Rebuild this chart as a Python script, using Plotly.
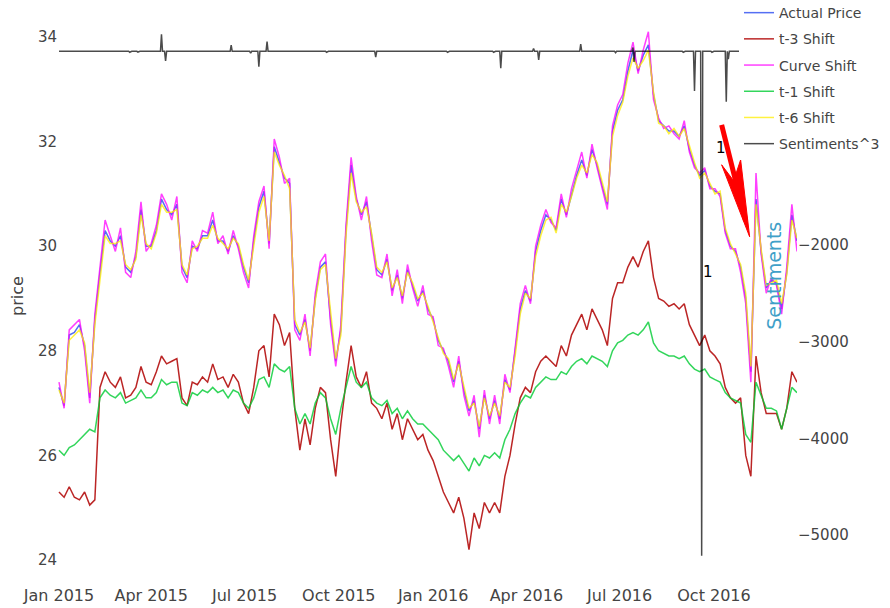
import pandas as pd
import plotly.graph_objects as go

# ---- data ----
dates = pd.date_range("2015-01-01", periods=145, freq="5D")

actual = [27.3, 26.95, 28.3, 28.35, 28.5, 28.1, 27.1, 28.6, 29.5, 30.3,
          30.1, 30.0, 30.2, 29.6, 29.5, 29.8, 30.7, 30.0, 30.0, 30.3,
          30.9, 30.7, 30.6, 30.8, 29.6, 29.4, 30.0, 29.95, 30.2, 30.2,
          30.5, 30.1, 30.1, 29.9, 30.2, 30.0, 29.6, 29.3, 30.1, 30.75,
          31.05, 30.05, 31.9, 31.6, 31.3, 31.2, 28.5, 28.3, 28.6, 28.0,
          29.0, 29.6, 29.7, 28.6, 27.8, 28.4, 30.3, 31.55, 30.9, 30.6,
          30.85, 30.2, 29.55, 29.45, 29.75, 29.15, 29.45, 29.0, 29.55, 29.25,
          28.95, 29.15, 28.8, 28.6, 28.2, 28.0, 27.8, 27.4, 27.8, 27.25,
          26.85, 27.05, 26.5, 27.15, 26.7, 27.05, 26.7, 27.45, 27.25, 28.0,
          28.8, 29.15, 28.95, 29.9, 30.3, 30.6, 30.5, 30.3, 30.9, 30.6,
          31.0, 31.35, 31.65, 31.35, 31.85, 31.55, 31.15, 30.8, 32.2, 32.6,
          32.8, 33.35, 33.75, 33.35, 33.65, 33.85, 32.9, 32.4, 32.3, 32.2,
          32.2, 32.1, 32.3, 31.85, 31.55, 31.35, 31.45, 31.15, 31.05, 31.0,
          30.3, 30.0, 29.9, 29.6, 29.0, 27.6, 30.9, 29.9, 29.2, 29.35,
          29.3, 28.8, 29.5, 30.6, 30.1]

t3_shift = [25.3, 25.2, 25.4, 25.2, 25.15, 25.3, 25.05, 25.15, 27.3, 27.6,
            27.4, 27.3, 27.5, 27.1, 27.15, 27.3, 27.7, 27.4, 27.35, 27.6,
            27.9, 27.75, 27.8, 27.85, 27.1, 26.95, 27.4, 27.35, 27.5, 27.4,
            27.75, 27.45, 27.5, 27.3, 27.55, 27.4, 27.0, 26.8, 27.3, 28.0,
            28.1, 27.5, 28.7, 28.5, 28.1, 28.35, 26.9, 26.1, 26.7, 26.2,
            26.9, 27.3, 27.2, 26.3, 25.6, 26.6, 27.4, 28.1, 27.5, 27.3,
            27.6, 27.0, 26.9, 26.7, 27.0, 26.5, 26.8, 26.3, 26.7, 26.5,
            26.3, 26.4, 26.1, 25.9, 25.6, 25.3, 25.1, 24.9, 25.2, 24.8,
            24.2, 24.9, 24.6, 25.1, 24.9, 25.1, 24.9, 25.6, 26.0, 26.6,
            27.1, 27.3, 27.2, 27.6, 27.8, 27.9, 27.8, 27.7, 28.1, 27.9,
            28.3, 28.5, 28.7, 28.4, 28.8, 28.6, 28.4, 28.1, 29.0, 29.3,
            29.3, 29.6, 29.8, 29.6, 29.9, 30.1, 29.4, 29.0, 28.95, 28.85,
            28.9, 28.8, 28.9, 28.5, 28.3, 28.1, 28.3, 28.0, 27.9, 27.75,
            27.3, 27.1, 27.0, 27.1, 26.0, 25.6, 27.9, 27.2, 26.8, 26.8,
            26.8, 26.5, 26.9, 27.6, 27.4]

curve_shift = [27.4, 26.9, 28.4, 28.5, 28.6, 28.0, 27.0, 28.7, 29.6, 30.5,
               30.2, 29.9, 30.35, 29.5, 29.4, 29.9, 30.85, 29.9, 30.05, 30.4,
               31.0, 30.8, 30.5, 30.95, 29.5, 29.3, 30.1, 29.9, 30.3, 30.25,
               30.65, 30.05, 30.2, 29.85, 30.3, 29.95, 29.5, 29.2, 30.2, 30.85,
               31.15, 29.95, 32.05, 31.7, 31.2, 31.3, 28.4, 28.2, 28.7, 27.9,
               29.1, 29.7, 29.85, 28.5, 27.7, 28.5, 30.4, 31.7, 30.95, 30.5,
               30.95, 30.1, 29.45, 29.4, 29.85, 29.05, 29.55, 28.9, 29.65, 29.2,
               28.85, 29.25, 28.7, 28.65, 28.1, 28.05, 27.7, 27.3, 27.9, 27.15,
               26.75, 27.15, 26.35, 27.25, 26.6, 27.15, 26.6, 27.55, 27.2, 28.1,
               28.9, 29.25, 28.9, 30.0, 30.4, 30.7, 30.45, 30.35, 31.0, 30.55,
               31.1, 31.45, 31.8, 31.3, 31.95, 31.5, 31.1, 30.7, 32.3, 32.7,
               32.9, 33.5, 33.9, 33.3, 33.75, 34.1, 32.8, 32.45, 32.25, 32.3,
               32.15, 32.05, 32.4, 31.8, 31.5, 31.4, 31.5, 31.1, 31.1, 30.95,
               30.25, 29.95, 29.95, 29.5, 28.9, 27.4, 31.4, 29.85, 29.1, 29.4,
               29.25, 28.7, 29.6, 30.8, 29.9]

t1_shift = [26.1, 26.0, 26.15, 26.2, 26.3, 26.4, 26.5, 26.45, 27.1, 27.25,
            27.15, 27.1, 27.2, 27.0, 27.05, 27.1, 27.25, 27.1, 27.1, 27.2,
            27.45, 27.35, 27.4, 27.4, 27.0, 26.95, 27.2, 27.15, 27.25, 27.2,
            27.3, 27.2, 27.25, 27.1, 27.25, 27.2, 27.0, 26.9, 27.1, 27.45,
            27.5, 27.3, 27.75, 27.65, 27.6, 27.7, 26.9, 26.6, 26.8, 26.6,
            27.0, 27.2, 27.1, 26.7, 26.4, 26.9, 27.3, 27.7, 27.4, 27.3,
            27.4, 27.1, 27.0, 26.95, 27.05, 26.8, 26.9, 26.7, 26.85, 26.7,
            26.6, 26.6, 26.5, 26.4, 26.3, 26.1, 26.0, 25.9, 26.0, 25.85,
            25.7, 25.95, 25.8, 26.0, 25.95, 26.05, 25.95, 26.3, 26.5, 26.8,
            27.0, 27.15, 27.1, 27.3, 27.4, 27.5, 27.45, 27.45, 27.6, 27.55,
            27.7, 27.8, 27.85, 27.75, 27.9, 27.85, 27.8, 27.7, 28.0, 28.15,
            28.2, 28.3, 28.35, 28.3, 28.4, 28.55, 28.15, 28.0, 27.95, 27.9,
            27.9, 27.85, 27.9, 27.75, 27.65, 27.6, 27.65, 27.5, 27.45, 27.4,
            27.2, 27.1, 27.05, 27.0, 26.4, 26.25, 27.4, 27.15, 26.9, 26.9,
            26.85, 26.5, 26.9, 27.3, 27.2]

t6_shift = [27.25, 27.0, 28.2, 28.3, 28.4, 28.15, 27.2, 28.5, 29.4, 30.2,
            30.05, 30.05, 30.1, 29.65, 29.55, 29.75, 30.6, 30.05, 29.95, 30.25,
            30.8, 30.65, 30.65, 30.7, 29.65, 29.45, 29.95, 30.0, 30.15, 30.15,
            30.4, 30.15, 30.05, 29.95, 30.15, 30.05, 29.65, 29.35, 30.0, 30.65,
            30.95, 30.1, 31.8, 31.55, 31.35, 31.1, 28.6, 28.35, 28.55, 28.05,
            28.95, 29.55, 29.65, 28.7, 27.85, 28.3, 30.2, 31.4, 30.85, 30.65,
            30.75, 30.25, 29.6, 29.5, 29.7, 29.2, 29.4, 29.05, 29.5, 29.3,
            29.0, 29.1, 28.85, 28.55, 28.25, 27.95, 27.85, 27.45, 27.75, 27.3,
            26.9, 27.0, 26.55, 27.1, 26.75, 27.0, 26.75, 27.4, 27.3, 27.9,
            28.7, 29.1, 29.0, 29.8, 30.2, 30.5, 30.55, 30.25, 30.8, 30.65,
            30.95, 31.3, 31.55, 31.4, 31.75, 31.6, 31.2, 30.85, 32.1, 32.5,
            32.75, 33.25, 33.6, 33.4, 33.55, 33.75, 32.95, 32.35, 32.3, 32.15,
            32.25, 32.1, 32.25, 31.9, 31.6, 31.3, 31.4, 31.2, 31.0, 31.05,
            30.35, 30.05, 29.85, 29.65, 29.1, 27.7, 30.8, 29.95, 29.25, 29.3,
            29.35, 28.9, 29.45, 30.5, 30.15]

# sentiment spikes (all other days are 0)
sent_dates = ["2015-03-11", "2015-03-19", "2015-04-11", "2015-04-15", "2015-05-22",
              "2015-06-18", "2015-07-07", "2015-07-15", "2015-07-23", "2015-09-19",
              "2015-11-06", "2016-01-15", "2016-02-29", "2016-03-07", "2016-04-08",
              "2016-04-13", "2016-05-24", "2016-06-27", "2016-07-14", "2016-07-15",
              "2016-09-01", "2016-09-12", "2016-09-19", "2016-09-29", "2016-10-13",
              "2016-10-15"]
sent_values = [-10, -8, 175, -100, -6,
               65, -20, -160, 100, -10,
               -60, -10, -10, -175, 30,
               -90, 75, -15, 40, -110,
               -10, -410, -5215, -10, -520,
               -80]

days = pd.date_range("2015-01-01", "2016-12-21", freq="D")
sent = pd.Series(sent_values, index=pd.to_datetime(sent_dates)).reindex(days, fill_value=0)

# ---- figure ----
fig = go.Figure()
lw = 1.5
series = [
    ("Actual Price", dates, actual, "#2a4bf0", 0.8, "y"),
    ("t-3 Shift", dates, t3_shift, "#b00000", 0.85, "y"),
    ("Curve Shift", dates, curve_shift, "#ff00ff", 0.75, "y"),
    ("t-1 Shift", dates, t1_shift, "#00cc33", 0.8, "y"),
    ("t-6 Shift", dates, t6_shift, "#ffee00", 0.75, "y"),
    ("Sentiments^3", sent.index, sent.values, "#000000", 0.7, "y2"),
]
for name, xs, ys, col, op, ax in series:
    fig.add_trace(go.Scatter(x=xs, y=ys, name=name, mode="lines", legendgroup=name,
                             line=dict(color=col, width=lw), opacity=op, yaxis=ax))

fig.update_layout(
    width=890, height=608,
    template="none",
    paper_bgcolor="white", plot_bgcolor="white",
    font=dict(family="DejaVu Sans", size=15, color="#444"),
    margin=dict(l=50, r=101, t=0, b=32, autoexpand=False),
    showlegend=True,
    legend=dict(x=0.9215, y=1.019, xanchor="left", yanchor="top",
                bgcolor="white", font=dict(size=14), tracegroupgap=5),
    xaxis=dict(type="date", range=["2014-12-31 01:00", "2016-12-21"], dtick="M3",
               tick0="2015-01-01", tickformat="%b %Y", showgrid=False,
               zeroline=False, showline=False, ticks="", tickfont=dict(size=16)),
    yaxis=dict(range=[23.541, 34.554], dtick=2, showgrid=False, zeroline=False,
               title=dict(text="price", font=dict(size=16)), ticks=""),
    yaxis2=dict(overlaying="y", side="right", range=[-5506, 447.5], dtick=1000,
                showgrid=False, zeroline=False, ticks=""),
    annotations=[
        dict(x="2016-10-08", y=31.88, text="1", showarrow=False,
             font=dict(color="black", size=15)),
        dict(x="2016-09-25", y=29.5, text="1", showarrow=False,
             font=dict(color="black", size=15)),
        dict(x=0.9865, y=0.535, xref="paper", yref="paper", text="Sentiments",
             textangle=-90, showarrow=False, font=dict(color="#3fa0c8", size=19)),
    ],
    shapes=[
        dict(type="line", xref="x", yref="y", xsizemode="pixel", ysizemode="pixel",
             xanchor="2016-11-04 19:00", yanchor=30.18, x0=-28, y0=112, x1=-4, y1=16,
             line=dict(color="red", width=5)),
        dict(type="path", xref="x", yref="y", xsizemode="pixel", ysizemode="pixel",
             xanchor="2016-11-04 19:00", yanchor=30.18,
             path="M0,0 L-28,72 L-16,56 L-9,77 Z",
             fillcolor="red", line=dict(color="red", width=1)),
    ],
)

fig.write_html("out.html")
